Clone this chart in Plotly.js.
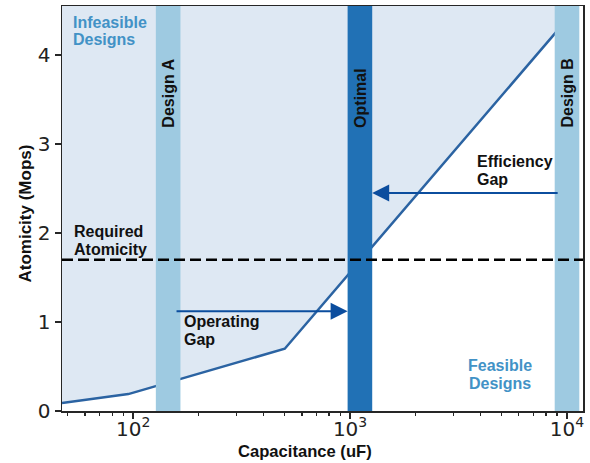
<!DOCTYPE html>
<html>
<head>
<meta charset="utf-8">
<script src="https://cdn.plot.ly/plotly-3.0.1.min.js"></script>
<style>
  html, body { margin: 0; padding: 0; background: #ffffff; }
  #chart { width: 590px; height: 463px; }
</style>
</head>
<body>
<div id="chart"></div>
<script>
// Feasibility boundary: highest atomicity reachable at each capacitance
const boundaryCap  = [47, 95, 500, 10000];
const boundaryAtom = [0.09, 0.19, 0.70, 4.40];

// Candidate designs, drawn as vertical bands
const designNames = ['Design A', 'Optimal', 'Design B'];
const designCap   = [145, 1110, 10000];

// Required atomicity threshold (Mops)
const requiredAtomicity = 1.7;

// Gap arrows: tail capacitance, target design index, atomicity level
const gapTailCap  = [156, 9200];
const gapTarget   = [1, 1];
const gapAtom     = [1.12, 2.45];

// Axis ticks and titles
const xTickVals = [100, 1000, 10000];
const xTickText = ['10<sup>2</sup>', '10<sup>3</sup>', '10<sup>4</sup>'];
const yTickVals = [0, 1, 2, 3, 4];
const xTitle = 'Capacitance (uF)';
const yTitle = 'Atomicity (Mops)';

// ---- layout constants ----
const M = { l: 62, r: 7, t: 6, b: 52 };
const W = 590, H = 463;
const PW = W - M.l - M.r, PH = H - M.t - M.b;
const xRange = [Math.log10(47), 4.0737];
const yRange = [0, 4.55];
const bandHalf = Math.pow(10, 0.0567);   // half band width, in decades

const C = {
  fill: '#dee8f3',
  line: '#2b63a2',
  band: ['#9ecae1', '#2171b5', '#9ecae1'],
  arrow: '#0b4d9e',
  region: '#4292c6',
  text: '#111111',
  axis: '#262626'
};
const BOLD = { family: 'Liberation Sans, Arial, sans-serif', size: 16, weight: 'bold' };

const traces = [];

// invisible ceiling so the infeasible region fills down to the boundary
traces.push({
  x: [boundaryCap[0], boundaryCap[boundaryCap.length - 1]],
  y: [yRange[1], yRange[1]],
  mode: 'lines', line: { width: 0 }, hoverinfo: 'skip', showlegend: false
});
traces.push({
  x: boundaryCap, y: boundaryAtom,
  mode: 'lines', fill: 'tonexty', fillcolor: C.fill,
  line: { color: C.line, width: 2.5 }, hoverinfo: 'skip', showlegend: false
});

// design bands
const bandLo = designCap.map(c => c / bandHalf);
const bandHi = designCap.map(c => c * bandHalf);
designCap.forEach((c, i) => {
  traces.push({
    x: [bandLo[i], bandHi[i], bandHi[i], bandLo[i], bandLo[i]],
    y: [yRange[0], yRange[0], yRange[1], yRange[1], yRange[0]],
    mode: 'lines', fill: 'toself', fillcolor: C.band[i],
    line: { width: 0 }, hoverinfo: 'skip', showlegend: false
  });
});

// required atomicity threshold
traces.push({
  x: [Math.pow(10, xRange[0]), Math.pow(10, xRange[1])],
  y: [requiredAtomicity, requiredAtomicity],
  mode: 'lines', line: { color: '#000000', width: 2.5, dash: '11px,5px' },
  hoverinfo: 'skip', showlegend: false
});

// pixel helpers for text placement
const px2paperX = px => (px - M.l) / PW;
const px2paperY = py => (H - M.b - py) / PH;

const annotations = [];
function textLine(text, px, capTop, anchor, color) {
  annotations.push({
    text: text, xref: 'paper', yref: 'paper',
    x: px2paperX(px), y: px2paperY(capTop - 3),
    xanchor: anchor, yanchor: 'top', showarrow: false, borderpad: 0,
    font: Object.assign({}, BOLD, { color: color })
  });
}

textLine('Infeasible', 71.5, 16, 'left', C.region);
textLine('Designs', 71.5, 33, 'left', C.region);
textLine('Feasible', 500, 359, 'center', C.region);
textLine('Designs', 500, 377, 'center', C.region);
textLine('Required', 73, 225, 'left', C.text);
textLine('Atomicity', 73, 243, 'left', C.text);
textLine('Operating', 183, 315, 'left', C.text);
textLine('Gap', 183, 333, 'left', C.text);
textLine('Efficiency', 475.5, 155, 'left', C.text);
textLine('Gap', 475.5, 173, 'left', C.text);

// axis titles
annotations.push({
  text: xTitle, xref: 'paper', yref: 'paper',
  x: px2paperX(305), y: px2paperY(451.5), xanchor: 'center', yanchor: 'middle',
  showarrow: false, borderpad: 0,
  font: Object.assign({}, BOLD, { size: 16.6, color: C.text })
});
annotations.push({
  text: yTitle, xref: 'paper', yref: 'paper',
  x: px2paperX(25.5), y: px2paperY(214), xanchor: 'center', yanchor: 'middle',
  textangle: -90, showarrow: false, borderpad: 0,
  font: Object.assign({}, BOLD, { size: 17, color: C.text })
});

// band labels
designNames.forEach((name, i) => {
  annotations.push({
    text: name, xref: 'x', yref: 'paper',
    x: Math.log10(designCap[i]), y: px2paperY(129),
    xanchor: 'center', yanchor: 'bottom', textangle: -90,
    showarrow: false, borderpad: 0,
    font: Object.assign({}, BOLD, { color: C.text })
  });
});

// gap arrows end on the near edge of the target band
gapTailCap.forEach((tail, i) => {
  const t = gapTarget[i];
  const head = tail < designCap[t] ? bandLo[t] : bandHi[t];
  annotations.push({
    xref: 'x', yref: 'y', axref: 'x', ayref: 'y',
    x: Math.log10(head), y: gapAtom[i],
    ax: Math.log10(tail), ay: gapAtom[i],
    text: '', showarrow: true, arrowhead: 2, arrowsize: 1.7,
    arrowwidth: 2, arrowcolor: C.arrow, standoff: 0
  });
});

const layout = {
  width: W, height: H,
  margin: M,
  paper_bgcolor: '#ffffff', plot_bgcolor: '#ffffff',
  showlegend: false,
  xaxis: {
    type: 'log', range: xRange,
    tickmode: 'array', tickvals: xTickVals, ticktext: xTickText,
    ticks: 'outside', ticklen: 6, tickwidth: 1.5, tickcolor: C.axis,
    ticklabelstandoff: -7,
    minor: { ticks: 'outside', ticklen: 3.5, tickwidth: 1.2, tickcolor: C.axis, dtick: 'D1' },
    showgrid: false, zeroline: false,
    showline: true, linecolor: C.axis, linewidth: 1.5, mirror: true,
    tickfont: { family: 'DejaVu Sans, sans-serif', size: 20, color: '#222222' }
  },
  yaxis: {
    range: yRange, tickmode: 'array', tickvals: yTickVals,
    ticks: 'outside', ticklen: 6, tickwidth: 1.5, tickcolor: C.axis,
    showgrid: false, zeroline: false,
    showline: true, linecolor: C.axis, linewidth: 1.5, mirror: true,
    tickfont: { family: 'DejaVu Sans, sans-serif', size: 20, color: '#222222' }
  },
  annotations: annotations
};

Plotly.newPlot('chart', traces, layout, { displayModeBar: false, staticPlot: true });
</script>
</body>
</html>
